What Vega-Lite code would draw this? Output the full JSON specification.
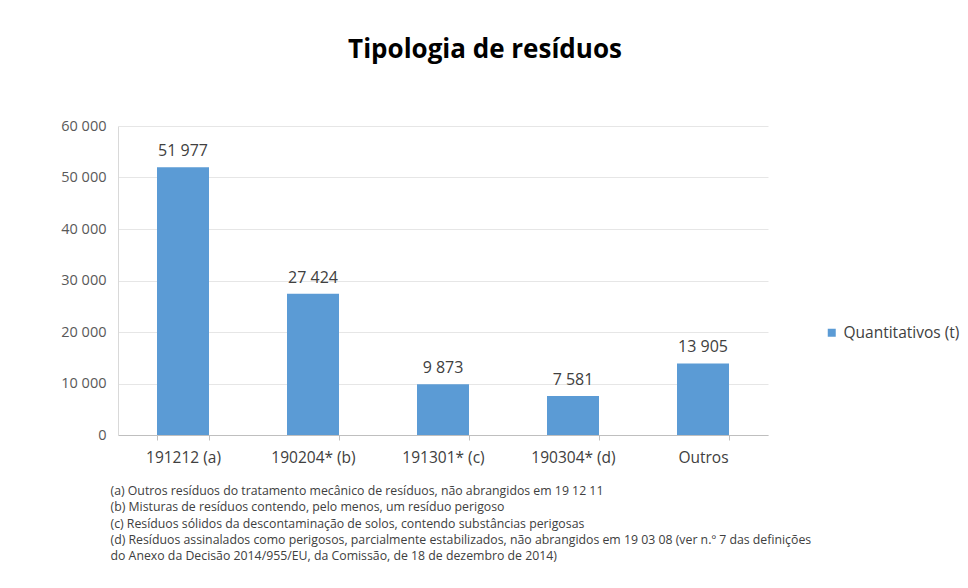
{
  "$schema": "https://vega.github.io/schema/vega-lite/v6.json",
  "autosize": "none",
  "width": 650,
  "height": 309,
  "padding": {"left": 118, "top": 126, "right": 200, "bottom": 153},
  "background": "white",
  "title": {
    "text": "Tipologia de resíduos",
    "font": "Open Sans",
    "fontSize": 26,
    "fontWeight": "bold",
    "color": "#000000",
    "anchor": "middle",
    "dx": 42,
    "offset": 55
  },
  "data": {
    "values": [
      {"categoria": "191212 (a)", "valor": 51977, "serie": "Quantitativos (t)"},
      {"categoria": "190204* (b)", "valor": 27424, "serie": "Quantitativos (t)"},
      {"categoria": "191301* (c)", "valor": 9873, "serie": "Quantitativos (t)"},
      {"categoria": "190304* (d)", "valor": 7581, "serie": "Quantitativos (t)"},
      {"categoria": "Outros", "valor": 13905, "serie": "Quantitativos (t)"}
    ]
  },
  "encoding": {
    "x": {
      "field": "categoria",
      "type": "nominal",
      "sort": null,
      "scale": {"paddingInner": 0.6, "paddingOuter": 0.3},
      "axis": {
        "labelAngle": 0,
        "labelFont": "Open Sans",
        "labelFontSize": 15.5,
        "labelColor": "#404040",
        "labelPadding": 10,
        "domainColor": "#bfbfbf",
        "tickColor": "#bfbfbf",
        "tickBand": "extent",
        "tickSize": 5,
        "title": [
          "(a) Outros resíduos  do tratamento mecânico de resíduos, não abrangidos em 19 12 11",
          "(b) Misturas de resíduos contendo, pelo menos, um resíduo perigoso",
          "(c) Resíduos sólidos da descontaminação de solos, contendo substâncias perigosas",
          "(d) Resíduos assinalados como perigosos, parcialmente estabilizados, não abrangidos em 19 03 08 (ver n.º 7 das definições",
          "do Anexo da Decisão 2014/955/EU, da Comissão, de 18 de dezembro de 2014)"
        ],
        "titleAnchor": "start",
        "titleAlign": "left",
        "titleX": -8,
        "titleFont": "Open Sans",
        "titleFontSize": 12.3,
        "titleFontWeight": "normal",
        "titleColor": "#404040",
        "titleLineHeight": 16.3,
        "titlePadding": 19
      }
    }
  },
  "layer": [
    {
      "mark": {"type": "bar", "color": "#5b9bd5"},
      "encoding": {
        "y": {
          "field": "valor",
          "type": "quantitative",
          "scale": {"domain": [0, 60000]},
          "axis": {
            "title": null,
            "values": [0, 10000, 20000, 30000, 40000, 50000, 60000],
            "format": ",d",
            "labelFont": "Open Sans",
            "labelFontSize": 14.5,
            "labelColor": "#595959",
            "labelPadding": 12,
            "ticks": false,
            "domain": true,
            "domainColor": "#d9d9d9",
            "gridColor": "#e6e6e6"
          }
        },
        "color": {
          "field": "serie",
          "type": "nominal",
          "scale": {"range": ["#5b9bd5"]},
          "legend": {
            "title": null,
            "orient": "none",
            "legendX": 706,
            "legendY": 199,
            "symbolType": "square",
            "symbolSize": 64,
            "labelFont": "Open Sans",
            "labelFontSize": 15.5,
            "labelColor": "#404040"
          }
        }
      }
    },
    {
      "mark": {"type": "text", "dy": -16, "font": "Open Sans", "fontSize": 16, "color": "#404040"},
      "encoding": {
        "y": {"field": "valor", "type": "quantitative"},
        "text": {"field": "valor", "type": "quantitative", "format": ",d"}
      }
    }
  ],
  "config": {
    "locale": {
      "number": {"decimal": ",", "thousands": " ", "grouping": [3], "currency": ["", " €"]}
    },
    "view": {"stroke": null}
  }
}
